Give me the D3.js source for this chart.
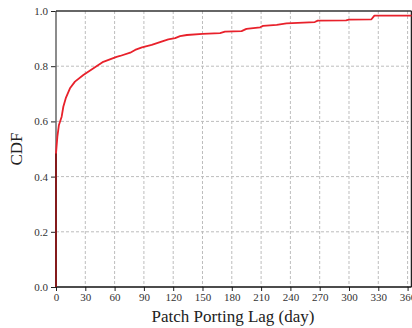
<!DOCTYPE html>
<html>
<head>
<meta charset="utf-8">
<script src="https://cdn.jsdelivr.net/npm/d3@7"></script>
<style>
  html, body { margin: 0; padding: 0; background: #fff; }
  svg { display: block; }
</style>
</head>
<body>
<div id="chart"></div>
<script>
// Data: CDF of patch porting lag (days)
const lagDays = [0, 0, 1.4, 3, 5.8, 7.5, 10, 14.3, 19.4, 28, 38, 48.4, 62, 65.5, 76, 81, 88, 98, 106.5, 115, 122, 127, 134, 150, 168, 173, 190, 195, 209, 212, 226, 236, 265, 268, 297, 300, 323, 326, 364];
const cdfValues = [0, 0.484, 0.545, 0.587, 0.617, 0.653, 0.684, 0.72, 0.744, 0.768, 0.792, 0.816, 0.834, 0.837, 0.849, 0.859, 0.868, 0.877, 0.887, 0.897, 0.902, 0.909, 0.913, 0.917, 0.920, 0.925, 0.927, 0.935, 0.941, 0.946, 0.950, 0.955, 0.960, 0.965, 0.966, 0.969, 0.970, 0.983, 0.983];
const xTicks = [0, 30, 60, 90, 120, 150, 180, 210, 240, 270, 300, 330, 360];
const yTicks = [0.0, 0.2, 0.4, 0.6, 0.8, 1.0];
const xLabel = "Patch Porting Lag (day)";
const yLabel = "CDF";

const W = 412, H = 328;
const mLeft = 56, mRight = 411.5, mTop = 11, mBottom = 287;

const svg = d3.select("#chart").append("svg").attr("width", W).attr("height", H);
const x = d3.scaleLinear().domain([0, 364]).range([mLeft, mRight]);
const y = d3.scaleLinear().domain([0, 1]).range([mBottom, mTop]);

const font = "'Liberation Serif', 'Times New Roman', serif";

// grid
const grid = svg.append("g").attr("stroke", "#bdbdbd").attr("stroke-width", 1).attr("stroke-dasharray", "3,2");
xTicks.filter(t => t > 0).forEach(t => {
  grid.append("line").attr("x1", x(t)).attr("x2", x(t)).attr("y1", mTop).attr("y2", mBottom);
});
yTicks.filter(t => t > 0 && t < 1).forEach(t => {
  grid.append("line").attr("x1", mLeft).attr("x2", mRight).attr("y1", y(t)).attr("y2", y(t));
});

// axes
const xAxis = d3.axisBottom(x).tickValues(xTicks).tickSize(4).tickPadding(2).tickFormat(d3.format("d"));
const yAxis = d3.axisLeft(y).tickValues(yTicks).tickSize(5).tickPadding(3).tickFormat(d3.format(".1f"));

const gx = svg.append("g").attr("transform", `translate(0,${mBottom})`).call(xAxis);
const gy = svg.append("g").attr("transform", `translate(${mLeft},0)`).call(yAxis);
[gx, gy].forEach(g => {
  g.select(".domain").remove();
  g.selectAll(".tick line").attr("stroke", "#222");
  g.selectAll(".tick text").attr("fill", "#333").style("font-family", font).style("font-size", "11px");
});

// frame
svg.append("line").attr("x1", mLeft).attr("x2", mLeft).attr("y1", mTop).attr("y2", mBottom).attr("stroke", "#666").attr("stroke-width", 1.5);
svg.append("line").attr("x1", mLeft).attr("x2", mRight).attr("y1", mTop).attr("y2", mTop).attr("stroke", "#333").attr("stroke-width", 1.5);
svg.append("line").attr("x1", mRight).attr("x2", mRight).attr("y1", mTop).attr("y2", mBottom).attr("stroke", "#222").attr("stroke-width", 1.5);
svg.append("line").attr("x1", mLeft).attr("x2", mRight).attr("y1", mBottom).attr("y2", mBottom).attr("stroke", "#111").attr("stroke-width", 1.5);

// CDF line
const pts = lagDays.map((d, i) => [d, cdfValues[i]]);
svg.append("path").datum(pts)
  .attr("fill", "none").attr("stroke", "#e8212b").attr("stroke-width", 1.8).attr("stroke-linejoin", "round")
  .attr("d", d3.line().x(d => x(d[0])).y(d => y(d[1])));
// dark overlap at the vertical start
svg.append("line").attr("x1", x(0)).attr("x2", x(0)).attr("y1", y(0)).attr("y2", y(cdfValues[1]))
  .attr("stroke", "#7a1a1a").attr("stroke-width", 1.8);

// labels
svg.append("text").attr("x", 233).attr("y", 322).attr("text-anchor", "middle")
  .style("font-family", font).style("font-size", "17px").attr("fill", "#222").text(xLabel);
svg.append("text").attr("transform", `translate(22,${(mTop + mBottom) / 2}) rotate(-90)`).attr("text-anchor", "middle")
  .style("font-family", font).style("font-size", "17px").attr("fill", "#222").text(yLabel);
</script>
</body>
</html>
